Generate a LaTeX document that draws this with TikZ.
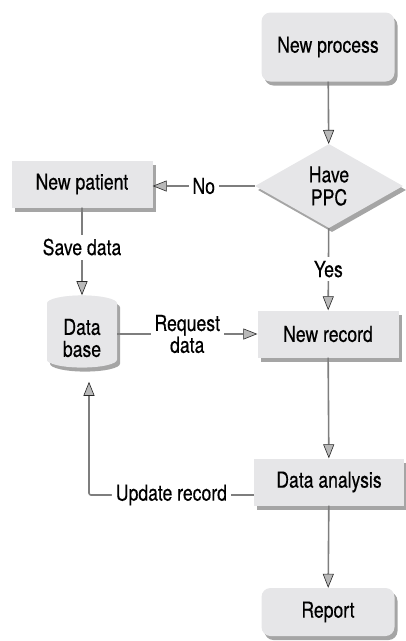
\documentclass[tikz,border=0pt]{standalone}
\usepackage{fontspec}
\setmainfont{TeX Gyre Heros}[FakeStretch=0.8, FakeBold=0.4]
\usepackage{tikz}
\usetikzlibrary{arrows.meta,shapes,shadows}
\definecolor{boxgray}{HTML}{E6E6E8}
\definecolor{linegray}{HTML}{7E7E7E}
\tikzset{>={Triangle[width=11pt,length=14pt,fill=gray!55,color=black!85,line width=0.6pt]}}
\tikzset{
  shade box/.style={fill=boxgray, draw=none,
    drop shadow={shadow xshift=3pt, shadow yshift=-4pt, opacity=0.5, fill=black!70}},
  procbox/.style={shade box, minimum width=141pt, minimum height=47pt},
  termbox/.style={shade box, rounded corners=9pt, minimum width=133pt, minimum height=69pt},
  decbox/.style={shade box, diamond, aspect=1.75, inner sep=0pt,
    minimum width=148pt, minimum height=84pt, align=center},
  dbase/.style={shade box, cylinder, shape border rotate=90, aspect=0.3,
    minimum width=70pt, minimum height=72pt, align=center,
    cylinder uses custom fill, cylinder body fill=boxgray, cylinder end fill=gray!8},
  flow/.style={draw=linegray, line width=1.6pt, ->},
  lbl/.style={fill=white, inner sep=4pt, align=center}
}

\begin{document}
\begin{tikzpicture}[x=1pt, y=-1pt]

  \fontsize{22}{24}\selectfont

  \newcommand\colL{82}
  \newcommand\colR{328}

  \useasboundingbox (0,0) rectangle (406,641);

  %% right column
  \node[termbox] (newproc) at (\colR, 47) {New process};
  \node[decbox]  (ppc) at (\colR+1, 186) {Have\\[-1pt]PPC};
  \node[procbox] (record) at (\colR, 334) {New record};
  \node[procbox, minimum width=150pt] (analysis) at (\colR+1, 482) {Data analysis};
  \node[termbox, minimum height=48pt] (report) at (\colR, 612) {Report};

  %% left column
  \node[procbox] (patient) at (\colL, 184) {New patient};
  \node[dbase] (db) at (\colL, 338) {Data\\[-2pt]base};

  \coordinate (upd) at (\colL+7, 495);

  \draw[flow] (newproc) -- (ppc);
  \draw[flow] (ppc.west) -- node[lbl]{No} (ppc.west -| patient.east); % no PPC
  \draw[flow] (patient) -- node[lbl, pos=0.45]{Save data} (db);
  \draw[flow] (ppc) -- node[lbl]{Yes} (record);
  \draw[flow] (record.west -| db.east) --
    node[lbl, font=\fontsize{22}{19}\selectfont]{Request\\data} (record.west);
  \draw[flow] (record) -- (analysis);
  \draw[flow, rounded corners=2pt, shorten >=14pt] (analysis.west |- upd) --
    node[lbl]{Update record} (upd) -- (upd |- db.south); % back to db
  \draw[flow] (analysis) -- (report);

\end{tikzpicture}
\end{document}
